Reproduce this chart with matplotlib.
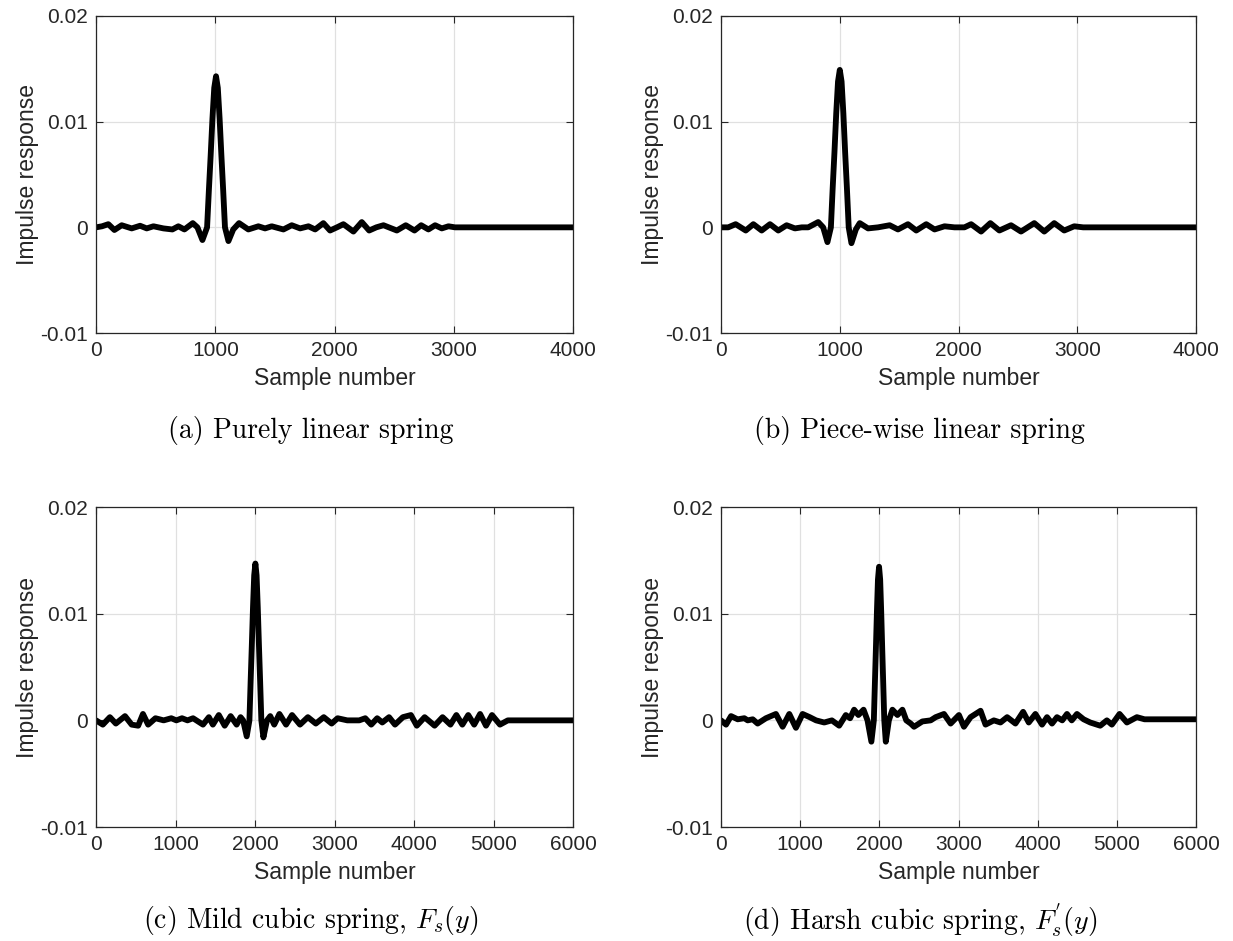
import matplotlib
matplotlib.use("Agg")
import matplotlib.pyplot as plt

# Impulse responses (sample, value)
samp_a = [0, 50, 103, 154, 215, 299, 369, 425, 481, 565, 640, 690, 741, 811, 850, 892,
          931, 946, 961, 976, 991, 1006, 1021, 1036, 1051, 1066, 1081, 1110, 1150, 1199,
          1277, 1361, 1417, 1473, 1571, 1641, 1711, 1781, 1837, 1906, 1962, 2020, 2074,
          2158, 2228, 2290, 2350, 2410, 2522, 2597, 2670, 2726, 2787, 2843, 2899, 2955,
          3010, 3300, 4000]
resp_a = [0.0, 0.0001, 0.0003, -0.00025, 0.0002, -0.0001, 0.00015, -0.0001, 0.0001, -0.0001,
          -0.0002, 0.0001, -0.0002, 0.0004, 0.0, -0.0012,
          0.0, 0.0035, 0.0068, 0.0103, 0.0132, 0.0143, 0.0132, 0.0103, 0.0068, 0.0035, 0.0,
          -0.0013, -0.0002, 0.0004,
          -0.0002, 0.0001, -0.0001, 0.0001, -0.0002, 0.0002, -0.0001, 0.0001, -0.0002,
          0.0004, -0.0003, 0.0, 0.0003, -0.0004, 0.0005, -0.0003, 0.0, 0.0002, -0.0003,
          0.0002, -0.0003, 0.0002, -0.0002, 0.0002, -0.0001, 0.0001, 0.0, 0.0, 0.0]

samp_b = [0, 60, 123, 208, 272, 342, 412, 482, 552, 622, 680, 734, 818, 860, 896,
          925, 940, 955, 970, 985, 1000, 1015, 1030, 1045, 1060, 1075, 1098, 1135, 1168,
          1238, 1322, 1420, 1490, 1574, 1644, 1728, 1798, 1882, 1966, 2050, 2106, 2190,
          2268, 2344, 2442, 2526, 2638, 2722, 2806, 2890, 2974, 3050, 4000]
resp_b = [0.0, 0.0, 0.0003, -0.0003, 0.0003, -0.0003, 0.0003, -0.0003, 0.0002, -0.0001,
          0.0, 0.0, 0.0005, 0.0, -0.0014,
          0.0, 0.0037, 0.0071, 0.0108, 0.0138, 0.0149, 0.0138, 0.0108, 0.0071, 0.0037, 0.0,
          -0.0015, -0.0002, 0.0004,
          -0.0001, 0.0, 0.0002, -0.0002, 0.0003, -0.0003, 0.0003, -0.0002, 0.0001,
          0.0, 0.0, 0.0003, -0.0004, 0.0004, -0.0003, 0.0002, -0.0004, 0.0004, -0.0004,
          0.0004, -0.0003, 0.0001, 0.0, 0.0]

samp_c = [0, 85, 174, 249, 364, 448, 530, 590, 655, 747, 850, 946, 1010, 1081, 1150, 1220,
          1345, 1419, 1469, 1544, 1618, 1693, 1768, 1818, 1850, 1895,
          1929, 1944, 1959, 1974, 1989, 2004, 2019, 2034, 2049, 2064, 2079, 2105, 2150,
          2191, 2241, 2306, 2390, 2465, 2565, 2664, 2764, 2864, 2963, 3038, 3160, 3310,
          3386, 3461, 3536, 3600, 3685, 3760, 3859, 3960, 4034, 4133, 4258, 4358, 4457,
          4532, 4607, 4681, 4756, 4830, 4905, 4980, 5080, 5179, 6000]
resp_c = [0.0, -0.0004, 0.0003, -0.0003, 0.0004, -0.0004, -0.0005, 0.0006, -0.0004, 0.0002,
          0.0, 0.0002, 0.0, 0.0002, 0.0, 0.0002,
          -0.0004, 0.0003, -0.0004, 0.0005, -0.0005, 0.0004, -0.0004, 0.0003, 0.0, -0.0015,
          0.0, 0.0036, 0.007, 0.0106, 0.0136, 0.0147, 0.0136, 0.0106, 0.007, 0.0036, 0.0,
          -0.0016, 0.0,
          0.0004, -0.0004, 0.0006, -0.0004, 0.0005, -0.0004, 0.0003, -0.0003, 0.0003,
          -0.0003, 0.0002, 0.0, 0.0, 0.0002, -0.0004, 0.0002, -0.0002, 0.0003, -0.0004,
          0.0003, 0.0005, -0.0005, 0.0003, -0.0005, 0.0003, -0.0004, 0.0005, -0.0004,
          0.0005, -0.0004, 0.0006, -0.0005, 0.0005, -0.0004, 0.0, 0.0]

samp_d = [0, 63, 126, 210, 294, 336, 400, 462, 567, 693, 778, 862, 946, 1030, 1120, 1200,
          1303, 1400, 1492, 1576, 1630, 1681, 1735, 1800, 1850, 1899,
          1930, 1943, 1956, 1969, 1982, 1996, 2010, 2023, 2036, 2049, 2062, 2081, 2120,
          2165, 2228, 2291, 2340, 2396, 2438, 2543, 2648, 2711, 2816, 2900, 3005, 3068,
          3152, 3278, 3341, 3446, 3530, 3614, 3719, 3816, 3887, 3971, 4055, 4118, 4181,
          4244, 4310, 4370, 4430, 4496, 4580, 4664, 4790, 4874, 4937, 5034, 5127, 5253,
          5350, 6000]
resp_d = [0.0, -0.0004, 0.0004, 0.0001, 0.0002, 0.0, 0.0001, -0.0003, 0.0002, 0.0006,
          -0.0006, 0.0006, -0.0007, 0.0006, 0.0003, 0.0,
          -0.0002, 0.0, -0.0005, 0.0005, 0.0002, 0.001, 0.0005, 0.001, 0.0, -0.002,
          0.0, 0.0034, 0.0067, 0.0102, 0.0132, 0.0144, 0.0132, 0.0102, 0.0067, 0.0034, 0.0,
          -0.002, 0.0,
          0.001, 0.0005, 0.001, 0.0, -0.0003, -0.0006, -0.0001, 0.0, 0.0003, 0.0006,
          -0.0003, 0.0005, -0.0006, 0.0003, 0.0009, -0.0004, 0.0, -0.0002, 0.0003,
          -0.0003, 0.0008, -0.0002, 0.0006, -0.0004, 0.0003, -0.0003, 0.0003, 0.0,
          0.0006, 0.0, 0.0006, 0.0001, -0.0002, -0.0005, 0.0, -0.0004, 0.0006, -0.0002,
          0.0003, 0.0001, 0.0001]

yticks = [-0.01, 0, 0.01, 0.02]
ytick_labels = ["-0.01", "0", "0.01", "0.02"]
xticks_4k = [0, 1000, 2000, 3000, 4000]
xticks_6k = [0, 1000, 2000, 3000, 4000, 5000, 6000]

captions = ["(a) Purely linear spring",
            "(b) Piece-wise linear spring",
            "(c) Mild cubic spring, $F_s(y)$",
            "(d) Harsh cubic spring, $F_s^{'}(y)$"]

plt.rcParams['font.family'] = ['Liberation Sans', 'DejaVu Sans']
plt.rcParams['mathtext.fontset'] = 'cm'
plt.rcParams['axes.unicode_minus'] = False

fig = plt.figure(figsize=(12.33, 9.41), dpi=100)

rects = [[0.0779, 0.6461, 0.3869, 0.3369],
         [0.5848, 0.6461, 0.3852, 0.3369],
         [0.0779, 0.1211, 0.3869, 0.3401],
         [0.5848, 0.1211, 0.3852, 0.3401]]
data = [(samp_a, resp_a, xticks_4k), (samp_b, resp_b, xticks_4k),
        (samp_c, resp_c, xticks_6k), (samp_d, resp_d, xticks_6k)]
cap_pos = [(0.252, 0.543), (0.746, 0.543), (0.252, 0.022), (0.746, 0.022)]

edge = (0.15, 0.15, 0.15)
for rect, (xs, ys, xt), cap, (cx, cy) in zip(rects, data, captions, cap_pos):
    ax = fig.add_axes(rect)
    ax.plot(xs, ys, color='black', lw=4.2, solid_joinstyle='round', solid_capstyle='round')
    ax.set_xlim(xt[0], xt[-1])
    ax.set_ylim(-0.01, 0.02)
    ax.set_xticks(xt)
    ax.set_xticklabels([str(v) for v in xt])
    ax.set_yticks(yticks)
    ax.set_yticklabels(ytick_labels)
    ax.grid(True, color=(0.88, 0.88, 0.88), lw=0.9)
    ax.set_axisbelow(True)
    for sp in ax.spines.values():
        sp.set_color(edge)
        sp.set_linewidth(0.9)
    ax.tick_params(direction='in', length=5, width=0.8, colors=edge, labelsize=15,
                   top=True, right=True, pad=6)
    ax.set_xlabel("Sample number", fontsize=16.5, color=edge, labelpad=5)
    ax.set_ylabel("Impulse response", fontsize=16.5, color=edge)
    ax.yaxis.set_label_coords(-0.12, 0.5)
    fig.text(cx, cy, cap, fontsize=20, family='cmr10', ha='center', va='center')

fig.savefig("out.png", dpi=100)
